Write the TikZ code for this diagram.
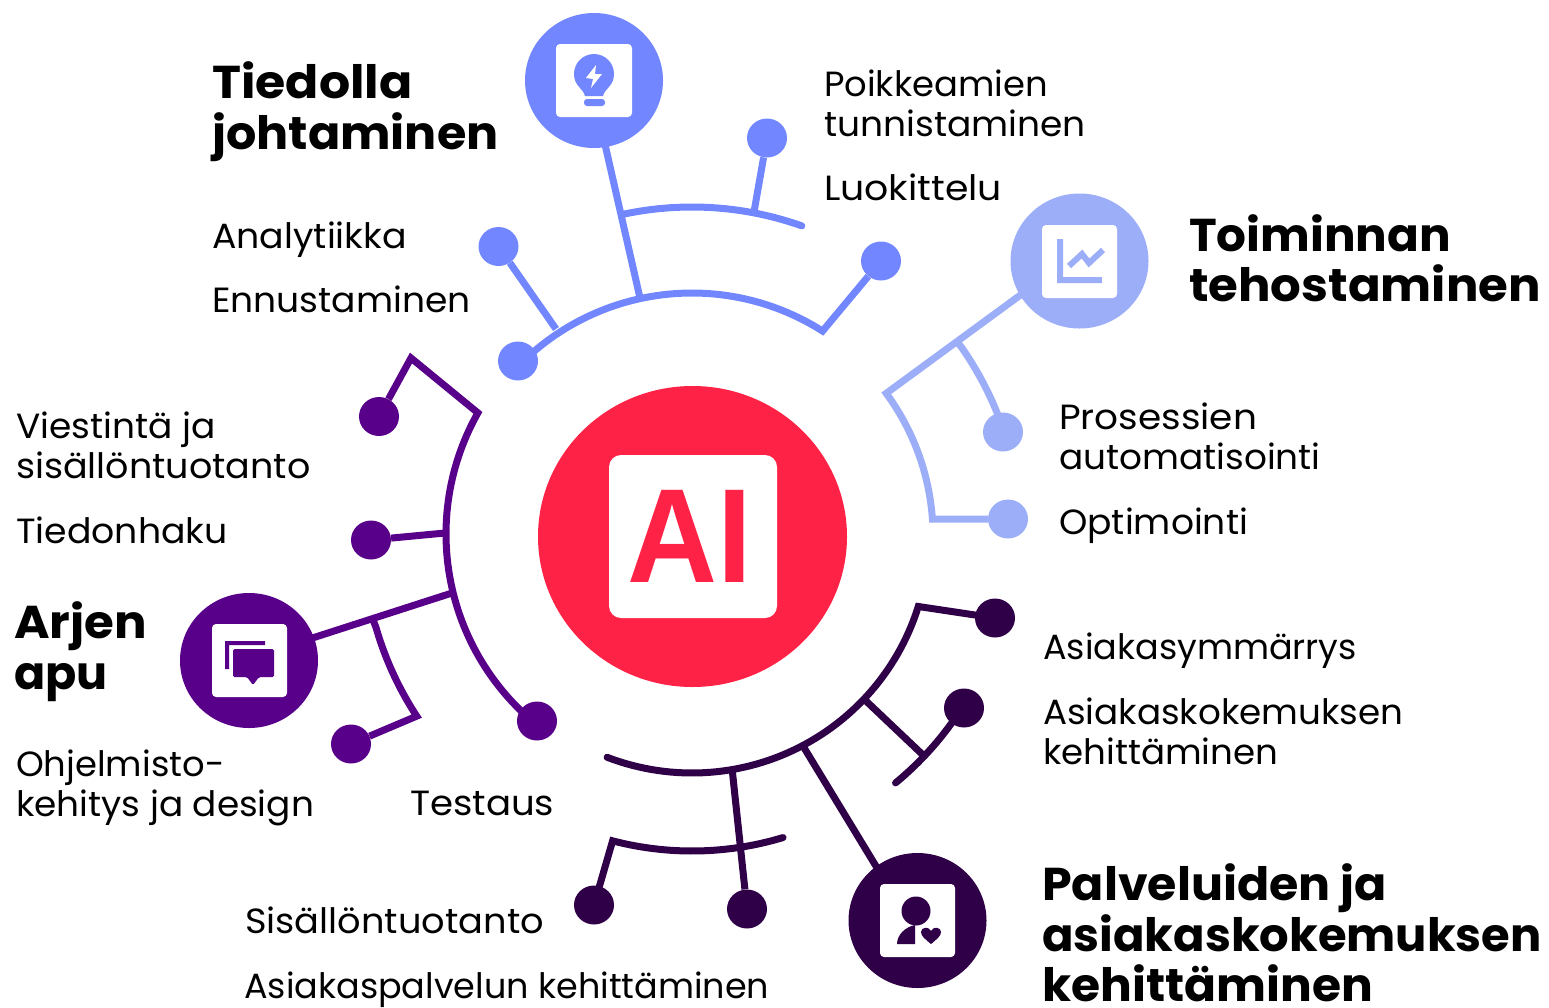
\documentclass[tikz,border=0pt]{standalone}
\usepackage{fontspec}
\usepackage{graphicx}
\setmainfont{Poppins}
\newfontfamily\aifont{Liberation Sans}
\usetikzlibrary{shapes.geometric,backgrounds}
\definecolor{cblue}{HTML}{7287FF}
\definecolor{clight}{HTML}{9DAEF9}
\definecolor{cpurple}{HTML}{58008A}
\definecolor{cdark}{HTML}{2F0047}
\definecolor{cred}{HTML}{FF2247}
\newcommand{\sx}[2]{\scalebox{#1}[1]{#2}}
\tikzset{
 hub/.style={ellipse,inner sep=0pt,minimum width=138pt,minimum height=135pt,fill=#1},
 dot/.style={ellipse,inner sep=0pt,minimum width=40pt,minimum height=39pt,fill=#1},
 wire/.style={line width=7pt,color=#1,line join=miter,miter limit=10},
 ringarc/.style={samples=60,variable=\t},
 iconbox/.style={rounded corners=4pt,fill=white},
 lab/.style={anchor=base west,align=left,inner sep=0pt,font=\fontsize{35}{40}\selectfont,text=black},
 ttl/.style={anchor=base west,align=left,inner sep=0pt,font=\fontsize{46}{50}\selectfont\bfseries,text=black},
}
\begin{document}
\begin{tikzpicture}[x=1pt,y=-1pt]
\useasboundingbox (0,0) rectangle (1549,1007);
% centre
\node[ellipse,inner sep=0pt,minimum width=309pt,minimum height=301pt,fill=cred] (ai) at (692.5,536.5) {};
\fill[iconbox,rounded corners=12pt] (609,455) rectangle (777,618);
\node[anchor=base,inner sep=0pt,font=\fontsize{134}{134}\selectfont\aifont\bfseries,text=cred] (aitext) at (690,582) {\sx{.93}{AI}};
% hubs
\node[hub=cblue] (hubA) at (594,80.5) {};
\node[hub=clight] (hubB) at (1079.5,261) {};
\node[hub=cpurple] (hubC) at (249,660.5) {};
\node[hub=cdark] (hubD) at (917.5,920.5) {};
% dots
\node[dot=cblue] (a1) at (767,138) {};
\node[dot=cblue] (a2) at (881,261) {};
\node[dot=cblue] (a3) at (498.5,246.5) {};
\node[dot=cblue] (a4) at (518,361) {};
\node[dot=clight] (b1) at (1003,432) {};
\node[dot=clight] (b2) at (1008,519) {};
\node[dot=cpurple] (c1) at (379,416.5) {};
\node[dot=cpurple] (c2) at (371,540) {};
\node[dot=cpurple] (c3) at (537,721) {};
\node[dot=cpurple] (c4) at (351,744) {};
\node[dot=cdark] (d1) at (995,618) {};
\node[dot=cdark] (d2) at (964,708) {};
\node[dot=cdark] (d3) at (747,909) {};
\node[dot=cdark] (d4) at (594,905) {};
% junctions
\coordinate (ja0) at (604,140);
\coordinate (ja1) at (623,213);
\coordinate (ja2) at (640,298);
\coordinate (ja3) at (754,212);
\coordinate (ja5) at (556,329);
\coordinate (jb0) at (1030,288);
\coordinate (jb1) at (958,343);
\coordinate (jc1) at (411,358);
\coordinate (jc3) at (445,533);
\coordinate (jc4) at (452,593);
\coordinate (jc5) at (373,620);
\coordinate (jc0) at (300,642);
\coordinate (jd2) at (865,700);
\coordinate (jd3) at (923,755);
\coordinate (jd5) at (803,746);
\coordinate (jd6) at (732,768);
\coordinate (jd0) at (885,881);
\begin{scope}[on background layer]
% blue
\draw[wire=cblue] (ja0) -- (ja2);
\draw[wire=cblue,line cap=round] plot[ringarc,domain=-102:-70.5] ({692+329*cos(\t)},{536+329*sin(\t)});
\draw[wire=cblue] (ja3) -- (a1);
\draw[wire=cblue] plot[ringarc,domain=-135:-57.5] ({692+243*cos(\t)},{536+243*sin(\t)}) -- (a2);
\draw[wire=cblue] (ja5) -- (a3);
% light
\draw[wire=clight] (jb0) -- plot[ringarc,domain=-36.3:-4] ({692+241*cos(\t)},{536+241*sin(\t)}) -- (b2);
\draw[wire=clight] (jb1) -- plot[ringarc,domain=-35:-18.5] ({692+329*cos(\t)},{536+329*sin(\t)});
% purple
\draw[wire=cpurple] (c1) -- (jc1) -- plot[ringarc,domain=209.5:129.7] ({692+246*cos(\t)},{534+246*sin(\t)});
\draw[wire=cpurple] (c2) -- (jc3);
\draw[wire=cpurple] (jc0) -- (jc4);
\draw[wire=cpurple] (jc5) -- plot[ringarc,domain=164:146.8] ({692+329*cos(\t)},{536+329*sin(\t)}) -- (c4);
% dark
\draw[wire=cdark,line cap=round] plot[ringarc,domain=111:17.3] ({692+237*cos(\t)},{536+237*sin(\t)}) -- (d1);
\draw[wire=cdark] (jd2) -- (jd3);
\draw[wire=cdark,line cap=round] plot[ringarc,domain=50.5:33] ({692+320*cos(\t)},{536+320*sin(\t)});
\draw[wire=cdark] (jd5) -- (jd0);
\draw[wire=cdark] (jd6) -- (d3);
\draw[wire=cdark,line cap=round] (d4) -- plot[ringarc,domain=104.6:73.2] ({692+315*cos(\t)},{536+315*sin(\t)});
\end{scope}
% icon A: bulb
\fill[iconbox] (556,44) rectangle (632,117);
\fill[cblue] (585,96) .. controls (583,88) and (574,86) .. (574,74) arc[start angle=180,end angle=360,radius=20] .. controls (614,86) and (605,88) .. (603,96) -- cycle;
\fill[white] (596,65) -- (586,78) -- (593,79) -- (591,88) -- (602,74) -- (595,74) -- cycle;
\fill[cblue,rounded corners=3pt] (584,99) -- (605,99) -- (605,106) -- (584,106) -- cycle;
% icon B: chart
\fill[iconbox] (1042,225) rectangle (1117,298);
\fill[clight] (1057,239) -- (1063,239) -- (1063,277) -- (1102,277) -- (1102,283) -- (1057,283) -- cycle;
\draw[clight,line width=6pt] (1069,266) -- (1082,254) -- (1089,263) -- (1103,250);
% icon C: chat
\fill[iconbox] (212,624) rectangle (287,697);
\fill[cpurple] (225,669) -- (225,641) -- (265,641) -- (265,645) -- (229,645) -- (229,669) -- cycle;
\fill[cpurple,rounded corners=1.5pt] (233,649) -- (274,649) -- (274,677) -- (259,677) -- (253,685) -- (247,677) -- (233,677) -- cycle;
% icon D: person
\fill[iconbox] (880,884) rectangle (955,957);
\fill[cdark] (916,911) circle[radius=14.5];
\fill[cdark] (897,944) .. controls (897,935) and (905,927) .. (915,925) -- (915,944) -- cycle;
\fill[cdark] (931,944) .. controls (925,939) and (921,936) .. (921,932) .. controls (921,927) and (929,926) .. (931,931) .. controls (933,926) and (941,927) .. (941,932) .. controls (941,936) and (937,939) .. (931,944) -- cycle;
% titles
\node[ttl] (t1a) at (212,98) {\sx{1.065}{Tiedolla}};
\node[ttl] (t1b) at (212,149) {\sx{1.036}{johtaminen}};
\node[ttl] (t2a) at (1189,251) {\sx{1.02}{Toiminnan}};
\node[ttl] (t2b) at (1189,301) {\sx{1.048}{tehostaminen}};
\node[ttl] (t3a) at (14,638) {\sx{1.05}{Arjen}};
\node[ttl] (t3b) at (14,689) {apu};
\node[ttl] (t4a) at (1042,900) {\sx{1.033}{Palveluiden ja}};
\node[ttl] (t4b) at (1042,951) {\sx{1.01}{asiakaskokemuksen}};
\node[ttl] (t4c) at (1042,1001) {\sx{1.025}{kehittäminen}};
% labels
\node[lab] (l1) at (824,96) {\sx{1.01}{Poikkeamien}};
\node[lab] (l2) at (824,136) {\sx{1.028}{tunnistaminen}};
\node[lab] (l3) at (824,200) {\sx{1.08}{Luokittelu}};
\node[lab] (l4) at (212,248) {\sx{1.037}{Analytiikka}};
\node[lab] (l5) at (212,312) {\sx{1.03}{Ennustaminen}};
\node[lab] (l6) at (1059,429) {\sx{1.07}{Prosessien}};
\node[lab] (l7) at (1059,469) {\sx{1.024}{automatisointi}};
\node[lab] (l8) at (1059,534) {\sx{1.03}{Optimointi}};
\node[lab] (l9) at (16,438) {\sx{1.026}{Viestintä ja}};
\node[lab] (l10) at (16,478) {\sx{1.043}{sisällöntuotanto}};
\node[lab] (l11) at (16,543) {\sx{1.035}{Tiedonhaku}};
\node[lab] (l12) at (16,776) {\sx{1.01}{Ohjelmisto-}};
\node[lab] (l13) at (16,816) {\sx{1.024}{kehitys ja design}};
\node[lab] (l14) at (410,815) {\sx{1.06}{Testaus}};
\node[lab] (l15) at (245,933) {\sx{1.05}{Sisällöntuotanto}};
\node[lab] (l16) at (244,998) {Asiakaspalvelun kehittäminen};
\node[lab] (l17) at (1043,659) {Asiakasymmärrys};
\node[lab] (l18) at (1043,724) {\sx{1.02}{Asiakaskokemuksen}};
\node[lab] (l19) at (1043,764) {\sx{1.017}{kehittäminen}};
\end{tikzpicture}
\end{document}
